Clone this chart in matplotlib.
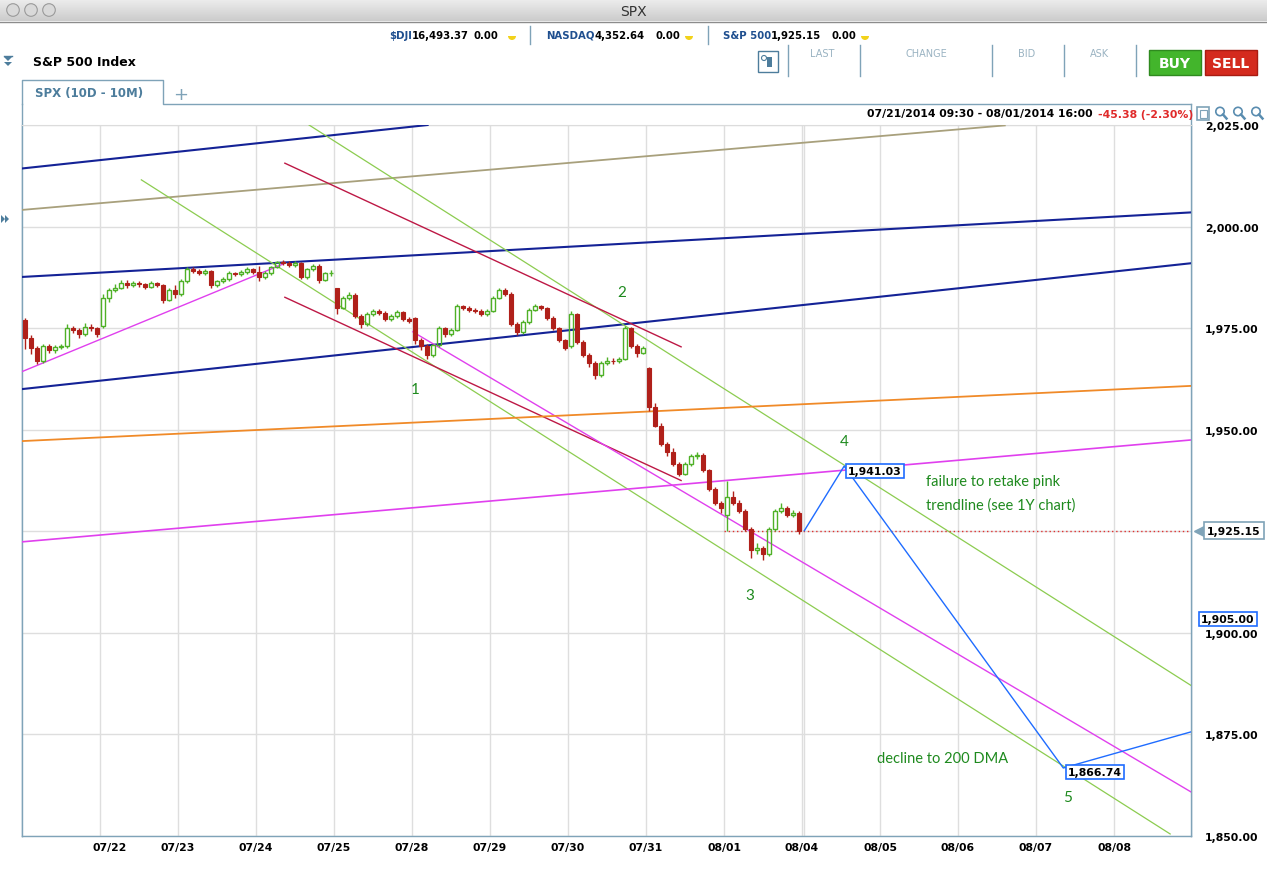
import matplotlib
matplotlib.use("Agg")
import matplotlib.pyplot as plt
import matplotlib.transforms as mtransforms
from matplotlib.patches import Rectangle, Circle, Polygon, Wedge
import numpy as np

# ---------------- data ----------------
trade_dates = ["07/21", "07/22", "07/23", "07/24", "07/25", "07/28", "07/29", "07/30", "07/31", "08/01"]
future_dates = ["08/04", "08/05", "08/06", "08/07", "08/08"]
bars_per_day = 13  # 30-minute candles

opens = [
    1977.0, 1972.5, 1970.0, 1967.0, 1970.5, 1969.5, 1970.3, 1970.5, 1975.0, 1974.5, 1973.5, 1975.3, 1975.0,
    1975.5, 1982.5, 1984.5, 1985.0, 1986.2, 1985.5, 1986.0, 1985.8, 1985.2, 1986.0, 1985.5, 1982.0, 1984.5,
    1983.5, 1986.5, 1989.5, 1989.0, 1988.5, 1989.0, 1985.5, 1986.5, 1987.0, 1988.5, 1988.3, 1988.8, 1989.5,
    1988.8, 1987.5, 1988.5, 1990.0, 1991.2, 1991.0, 1990.5, 1991.0, 1987.5, 1989.5, 1990.3, 1986.8, 1988.5,
    1984.8, 1980.0, 1982.5, 1983.2, 1978.0, 1976.0, 1978.5, 1979.2, 1978.7, 1977.2, 1978.0, 1979.0, 1977.2,
    1977.5, 1972.0, 1970.5, 1968.5, 1970.8, 1975.0, 1973.5, 1974.5, 1980.5, 1980.0, 1979.5, 1979.2, 1978.5,
    1979.3, 1982.5, 1984.5, 1983.5, 1976.0, 1974.0, 1976.5, 1979.5, 1980.5, 1980.0, 1977.5, 1975.0, 1972.0,
    1970.5, 1978.5, 1971.5, 1968.5, 1966.5, 1963.5, 1966.5, 1967.0, 1966.8, 1967.5, 1975.0, 1970.5, 1969.0,
    1965.2, 1955.5, 1951.0, 1946.5, 1944.5, 1941.5, 1939.2, 1941.5, 1943.5, 1943.8, 1940.0, 1935.5, 1932.0,
    1929.0, 1933.5, 1932.0, 1930.0, 1925.5, 1920.5, 1920.8, 1919.5, 1925.5, 1930.0, 1930.8, 1929.0, 1929.5,
]
closes = [
    1972.5, 1970.0, 1967.0, 1970.5, 1969.5, 1970.3, 1970.5, 1975.0, 1974.5, 1973.5, 1975.3, 1975.0, 1973.5,
    1982.5, 1984.5, 1985.0, 1986.2, 1985.5, 1986.0, 1985.8, 1985.2, 1986.0, 1985.5, 1982.0, 1984.5, 1983.5,
    1986.5, 1989.5, 1989.0, 1988.5, 1989.0, 1985.5, 1986.5, 1987.0, 1988.5, 1988.3, 1988.8, 1989.5, 1988.8,
    1987.5, 1988.5, 1990.0, 1991.2, 1991.0, 1990.5, 1991.0, 1987.5, 1989.5, 1990.3, 1986.8, 1988.5, 1988.6,
    1980.0, 1982.5, 1983.2, 1978.0, 1976.0, 1978.5, 1979.2, 1978.7, 1977.2, 1978.0, 1979.0, 1977.2, 1976.8,
    1972.0, 1970.5, 1968.5, 1970.8, 1975.0, 1973.5, 1974.5, 1980.5, 1980.0, 1979.5, 1979.2, 1978.5, 1979.3,
    1982.5, 1984.5, 1983.5, 1976.0, 1974.0, 1976.5, 1979.5, 1980.5, 1980.0, 1977.5, 1975.0, 1972.0, 1970.2,
    1978.5, 1971.5, 1968.5, 1966.5, 1963.5, 1966.5, 1967.0, 1966.8, 1967.5, 1975.0, 1970.5, 1969.0, 1970.0,
    1955.5, 1951.0, 1946.5, 1944.5, 1941.5, 1939.2, 1941.5, 1943.5, 1943.8, 1940.0, 1935.5, 1932.0, 1930.8,
    1933.5, 1932.0, 1930.0, 1925.5, 1920.5, 1920.8, 1919.5, 1925.5, 1930.0, 1930.8, 1929.0, 1929.5, 1925.15,
]
highs = [
    1977.5, 1973.2, 1970.5, 1971.0, 1971.0, 1970.8, 1971.2, 1976.0, 1975.6, 1975.0, 1976.2, 1976.0, 1975.4,
    1983.5, 1985.0, 1985.8, 1986.8, 1986.8, 1986.6, 1986.5, 1986.2, 1986.5, 1986.4, 1985.8, 1984.9, 1985.6,
    1987.0, 1990.0, 1990.0, 1989.6, 1989.5, 1989.4, 1986.9, 1987.5, 1989.0, 1988.9, 1989.2, 1990.0, 1989.8,
    1990.3, 1989.0, 1990.4, 1991.6, 1991.8, 1991.5, 1991.5, 1991.4, 1989.9, 1990.8, 1990.7, 1988.9, 1989.2,
    1985.0, 1983.0, 1984.0, 1983.6, 1978.5, 1978.9, 1979.7, 1979.6, 1979.1, 1978.4, 1979.5, 1979.3, 1977.8,
    1977.8, 1972.5, 1971.0, 1971.2, 1975.6, 1975.3, 1975.0, 1981.0, 1980.8, 1980.4, 1979.9, 1979.6, 1979.8,
    1982.9, 1985.0, 1984.9, 1983.8, 1976.5, 1976.9, 1979.9, 1981.0, 1980.8, 1980.3, 1977.9, 1975.4, 1972.4,
    1979.2, 1978.8, 1972.0, 1969.0, 1967.0, 1967.0, 1967.8, 1967.6, 1968.0, 1975.5, 1975.3, 1971.0, 1970.6,
    1965.4, 1956.5, 1951.6, 1947.0, 1945.5, 1942.0, 1942.0, 1944.0, 1944.6, 1944.2, 1940.4, 1936.0, 1932.5,
    1937.3, 1935.0, 1932.6, 1930.4, 1926.0, 1922.0, 1921.5, 1926.0, 1930.6, 1931.9, 1931.2, 1930.2, 1929.9,
]
lows = [
    1969.8, 1968.6, 1966.2, 1966.5, 1968.8, 1968.9, 1969.8, 1970.0, 1973.8, 1972.6, 1973.0, 1974.2, 1972.9,
    1975.0, 1981.5, 1983.9, 1984.6, 1985.0, 1985.1, 1985.2, 1984.6, 1984.9, 1985.1, 1981.3, 1981.6, 1982.3,
    1983.0, 1986.2, 1988.6, 1988.0, 1988.1, 1985.0, 1985.1, 1986.2, 1986.7, 1987.8, 1987.9, 1988.4, 1988.3,
    1986.5, 1987.0, 1988.2, 1989.7, 1990.6, 1990.1, 1990.1, 1987.1, 1987.2, 1989.1, 1986.2, 1986.5, 1987.9,
    1978.5, 1979.6, 1982.0, 1977.5, 1975.0, 1975.6, 1978.1, 1978.2, 1976.8, 1976.7, 1977.6, 1976.8, 1976.2,
    1971.0, 1969.6, 1967.5, 1968.0, 1970.3, 1972.8, 1973.0, 1974.2, 1979.4, 1979.0, 1978.8, 1978.0, 1978.1,
    1979.0, 1982.1, 1983.0, 1975.6, 1973.2, 1973.6, 1976.1, 1979.1, 1979.4, 1977.1, 1974.6, 1971.6, 1969.5,
    1970.0, 1971.0, 1968.0, 1965.5, 1962.5, 1963.0, 1965.9, 1966.2, 1966.3, 1967.1, 1970.0, 1967.8, 1968.6,
    1954.5, 1950.6, 1946.0, 1943.5, 1941.0, 1938.5, 1938.8, 1941.0, 1942.8, 1939.5, 1935.0, 1931.5, 1929.5,
    1925.1, 1931.4, 1929.5, 1925.0, 1918.5, 1919.4, 1918.0, 1919.0, 1925.0, 1929.4, 1928.5, 1928.4, 1924.3,
]

y_ticks = [1850, 1875, 1900, 1925, 1950, 1975, 2000, 2025]
y_tick_labels = ["1,850.00", "1,875.00", "1,900.00", "", "1,950.00", "1,975.00", "2,000.00", "2,025.00"]

# trendlines: x in trading days from 07/21 09:30, y = index level
navy_top_x, navy_top_y = [0.0, 5.2], [2014.3, 2025.0]
olive_x, olive_y = [0.0, 12.6], [2004.1, 2024.9]
navy_mid_x, navy_mid_y = [0.0, 15.0], [1987.6, 2003.5]
navy_low_x, navy_low_y = [0.0, 15.0], [1960.0, 1991.0]
green_up_x, green_up_y = [3.68, 15.0], [2025.0, 1886.9]
green_lo_x, green_lo_y = [1.53, 14.72], [2011.5, 1850.5]
crimson_up_x, crimson_up_y = [3.37, 8.45], [2015.6, 1970.4]
crimson_lo_x, crimson_lo_y = [3.37, 8.45], [1982.6, 1937.5]
pink_short_x, pink_short_y = [0.0, 3.35], [1964.3, 1990.8]
pink_down_x, pink_down_y = [5.01, 15.0], [1974.1, 1860.7]
pink_up_x, pink_up_y = [0.0, 15.0], [1922.4, 1947.5]
orange_x, orange_y = [0.0, 15.0], [1947.2, 1960.8]
proj_x = [10.03, 10.54, 13.35, 15.0]
proj_y = [1925.15, 1941.03, 1866.74, 1875.7]
last_price = 1925.15
cursor_price = 1905.00
cursor_y = 1903.4

wave_text = ["1", "2", "3", "4", "5"]
wave_x = [5.04, 7.69, 9.33, 10.54, 13.4]
wave_y = [1960.0, 1983.9, 1909.3, 1947.2, 1859.6]

# ---------------- figure ----------------
W, H = 1267, 870
fig = plt.figure(figsize=(W / 100, H / 100), dpi=100)
fig.patch.set_facecolor("white")

STEEL = "#7fa3b8"
TABBLUE = "#4d7d9c"
TICKBLUE = "#1f4f8f"
GREEN_ANN = "#1e8a1e"
BOLD = dict(family="DejaVu Sans", weight="bold")

# overlay in pixel coordinates for the window chrome
ov = fig.add_axes([0, 0, 1, 1], zorder=0)
ov.set_xlim(0, W)
ov.set_ylim(H, 0)
ov.axis("off")

grad = np.linspace(0.93, 0.80, 22)
img = np.dstack([grad, grad, grad]).reshape(22, 1, 3)
ov.imshow(img, extent=(0, W, 22, 0), aspect="auto", zorder=0)
ov.set_xlim(0, W)
ov.set_ylim(H, 0)
ov.plot([0, W], [22.5, 22.5], color="#8c8c8c", lw=1)
for cx in (13, 31, 49):
    ov.add_patch(Circle((cx, 11), 6.3, fc="#d9d9d9", ec="#9a9a9a", lw=0.8))
ov.text(633, 11.5, "SPX", ha="center", va="center", fontsize=10, color="#333333")


def chain(prev, s, color, gap=0):
    return ov.annotate(s, xy=(1, 0.5), xycoords=prev, xytext=(gap, 0), textcoords="offset pixels",
                       ha="left", va="center", fontsize=7.3, color=color, **BOLD)


# ticker row
ty = 36
t = ov.text(389, ty, "$DJI", ha="left", va="center", fontsize=7.3, color=TICKBLUE, **BOLD)
t = chain(t, "16,493.37", "black")
chain(t, "0.00", "black", gap=5)
t = ov.text(546, ty, "NASDAQ", ha="left", va="center", fontsize=7.3, color=TICKBLUE, **BOLD)
chain(t, "4,352.64", "black")
ov.text(655, ty, "0.00", ha="left", va="center", fontsize=7.3, color="black", **BOLD)
t = ov.text(723, ty, "S&P 500", ha="left", va="center", fontsize=7.3, color=TICKBLUE, **BOLD)
chain(t, "1,925.15", "black")
ov.text(831, ty, "0.00", ha="left", va="center", fontsize=7.3, color="black", **BOLD)
for ix in (512, 689, 865):
    ov.add_patch(Wedge((ix, ty + 1), 4, 0, 180, fc="#f2d21a", ec="none"))
for sx in (530, 708):
    ov.plot([sx, sx], [27, 45], color=STEEL, lw=1)

# title row
ov.add_patch(Polygon([[4, 58], [12, 58], [8, 62]], fc=TABBLUE, ec="none"))
ov.add_patch(Polygon([[4, 63], [12, 63], [8, 67]], fc=TABBLUE, ec="none"))
ov.plot([4, 12], [57, 57], color=TABBLUE, lw=1)
ov.text(33, 62, "S&P 500 Index", ha="left", va="center", fontsize=9, color="black", **BOLD)

ov.add_patch(Rectangle((758, 52), 20, 21, fc="white", ec=TABBLUE, lw=1))
ov.add_patch(Circle((764, 59), 2.5, fc="none", ec=TABBLUE, lw=0.8))
ov.add_patch(Rectangle((767, 58), 5, 10, fc=TABBLUE, ec="none"))
for sx in (788, 860, 992, 1064, 1136):
    ov.plot([sx, sx], [46, 77], color=STEEL, lw=1)
for lx, lab in ((822, "LAST"), (926, "CHANGE"), (1027, "BID"), (1099, "ASK")):
    ov.text(lx, 54, lab, ha="center", va="center", fontsize=7, color="#9ab3c2")
ov.add_patch(Rectangle((1149, 51), 52, 25, fc="#43b52c", ec="#2f8a1f", lw=1))
ov.text(1175, 63.5, "BUY", ha="center", va="center", fontsize=10, color="white", **BOLD)
ov.add_patch(Rectangle((1205, 51), 52, 25, fc="#d42a1e", ec="#a81b12", lw=1))
ov.text(1231, 63.5, "SELL", ha="center", va="center", fontsize=10, color="white", **BOLD)

# tab
ov.plot([22, 22, 163, 163, 1191], [105, 81, 81, 105, 105], color=STEEL, lw=1)
ov.text(35, 94, "SPX (10D - 10M)", ha="left", va="center", fontsize=8.5, color=TABBLUE, **BOLD)
ov.text(181, 95, "+", ha="center", va="center", fontsize=13, color="#7fa3b8")
ov.plot([22, 22], [105, 837], color=STEEL, lw=1)
ov.plot([1191, 1191], [105, 837], color=STEEL, lw=1)
ov.add_patch(Polygon([[1, 216], [5, 220], [1, 224]], fc=TABBLUE, ec="none"))
ov.add_patch(Polygon([[5, 216], [9, 220], [5, 224]], fc=TABBLUE, ec="none"))

# header strip
ov.text(1093, 114.5, "07/21/2014 09:30 - 08/01/2014 16:00", ha="right", va="center",
        fontsize=7.8, color="black", **BOLD)
ov.text(1098, 114.5, "-45.38 (-2.30%)", ha="left", va="center", fontsize=7.8, color="#e02a2a", **BOLD)
ov.add_patch(Rectangle((1197, 108), 12, 13, fc="white", ec=STEEL, lw=1.2))
ov.add_patch(Rectangle((1199.5, 110.5), 7, 8, fc="none", ec=STEEL, lw=0.8))
for mx in (1220, 1238, 1256):
    ov.add_patch(Circle((mx, 112.5), 4.2, fc="white", ec="#5a8db0", lw=1.2))
    ov.plot([mx + 3, mx + 6.5], [115.5, 119.5], color="#5a8db0", lw=1.8)

# ---------------- main chart ----------------
x0, x1, y0, y1 = 22, 1191, 126, 837
ax = fig.add_axes([x0 / W, 1 - y1 / H, (x1 - x0) / W, (y1 - y0) / H], zorder=2)
ax.set_facecolor("white")
n_days = len(trade_dates) + len(future_dates)
ax.set_xlim(0, (x1 - x0) / 78.0)
ax.set_ylim(1850, 2025)

for s in ("left", "right", "bottom"):
    ax.spines[s].set_color(STEEL)
    ax.spines[s].set_linewidth(1)
ax.spines["top"].set_color("#dcdcdc")

# grid
grid_days = list(range(1, n_days)) + [len(trade_dates) + 0.025]
for gx in grid_days:
    ax.axvline(gx, color="#dedede", lw=1, zorder=0)
for gy in y_ticks:
    ax.axhline(gy, color="#dedede", lw=1, zorder=0)

# y axis labels
ax.yaxis.tick_right()
ax.set_yticks(y_ticks)
ax.set_yticklabels(y_tick_labels)
ax.tick_params(axis="y", length=0, pad=10)
for lab in ax.get_yticklabels():
    lab.set_fontfamily("DejaVu Sans")
    lab.set_fontweight("bold")
    lab.set_fontsize(7.8)
    lab.set_horizontalalignment("left")

# x axis labels
all_dates = trade_dates + future_dates
ax.set_xticks([])
xt = mtransforms.blended_transform_factory(ax.transData, ax.transAxes)
for i, d in enumerate(all_dates[1:], start=1):
    off = 0.12 if i == 1 else 0.0
    ax.text(i + off, -0.016, d, transform=xt, ha="center", va="center",
            fontsize=7.8, color="black", clip_on=False, **BOLD)

# candles
n = len(closes)
w = 0.8 / bars_per_day
UP = "#4fb127"
DOWN = "#b0201a"
for i in range(n):
    cx = i // bars_per_day + (i % bars_per_day + 0.5) / bars_per_day
    o, h, l, c = opens[i], highs[i], lows[i], closes[i]
    top, bot = max(o, c), min(o, c)
    col = UP if c >= o else DOWN
    ax.plot([cx, cx], [top, h], color=col, lw=1, zorder=4, solid_capstyle="butt")
    ax.plot([cx, cx], [l, bot], color=col, lw=1, zorder=4, solid_capstyle="butt")
    if c >= o:
        ax.add_patch(Rectangle((cx - w / 2, bot), w, max(top - bot, 0.15), fc="none", ec=UP, lw=1, zorder=4))
    else:
        ax.add_patch(Rectangle((cx - w / 2, bot), w, max(top - bot, 0.15), fc=DOWN, ec=DOWN, lw=0.8, zorder=4))

# trendlines
ax.plot(navy_top_x, navy_top_y, color="#142296", lw=1.5, zorder=3)
ax.plot(olive_x, olive_y, color="#a8a07c", lw=1.3, zorder=3)
ax.plot(navy_mid_x, navy_mid_y, color="#142296", lw=1.5, zorder=3)
ax.plot(navy_low_x, navy_low_y, color="#142296", lw=1.5, zorder=3)
ax.plot(green_up_x, green_up_y, color="#8ccc50", lw=0.9, zorder=3)
ax.plot(green_lo_x, green_lo_y, color="#8ccc50", lw=0.9, zorder=3)
ax.plot(crimson_up_x, crimson_up_y, color="#bd1845", lw=1.0, zorder=3)
ax.plot(crimson_lo_x, crimson_lo_y, color="#bd1845", lw=1.0, zorder=3)
ax.plot(pink_short_x, pink_short_y, color="#e040ee", lw=1.0, zorder=3)
ax.plot(pink_down_x, pink_down_y, color="#e040ee", lw=1.0, zorder=3)
ax.plot(pink_up_x, pink_up_y, color="#e040ee", lw=1.2, zorder=3)
ax.plot(orange_x, orange_y, color="#f08a28", lw=1.3, zorder=3)

# last price dotted line and projection
ax.plot([len(trade_dates) - 1, ax.get_xlim()[1]], [last_price, last_price],
        color="#e03030", lw=1, ls=(0, (1, 2)), zorder=3)
ax.plot(proj_x, proj_y, color="#1f6cff", lw=1.0, zorder=5)

box_blue = dict(boxstyle="square,pad=0.2", fc="white", ec="#1f6cff", lw=1.2)
ax.annotate(f"{proj_y[1]:,.2f}", xy=(proj_x[1], proj_y[1]), xytext=(4, -5),
            textcoords="offset pixels", ha="left", va="center", fontsize=7.8, zorder=6,
            bbox=box_blue, **BOLD)
ax.annotate(f"{proj_y[2]:,.2f}", xy=(proj_x[2], proj_y[2]), xytext=(5, -4),
            textcoords="offset pixels", ha="left", va="center", fontsize=7.8, zorder=6,
            bbox=box_blue, **BOLD)

# right-side price boxes
yt = mtransforms.blended_transform_factory(ax.transAxes, ax.transData)
ax.plot([1.0075], [last_price], marker="<", ms=8, color=STEEL, transform=yt, clip_on=False, zorder=6)
ax.text(1.0135, last_price, f"{last_price:,.2f}", transform=yt, ha="left", va="center",
        fontsize=7.8, clip_on=False, zorder=7,
        bbox=dict(boxstyle="square,pad=0.3", fc="white", ec=STEEL, lw=1.2), **BOLD)
ax.text(1.0085, cursor_y, f"{cursor_price:,.2f}", transform=yt, ha="left", va="center",
        fontsize=7.8, clip_on=False, zorder=7,
        bbox=dict(boxstyle="square,pad=0.2", fc="white", ec="#1f6cff", lw=1.2), **BOLD)

# wave annotations
for t_, wx, wy in zip(wave_text, wave_x, wave_y):
    ax.text(wx, wy, t_, ha="center", va="center", fontsize=11, color=GREEN_ANN,
            family="Lato", zorder=6)
ax.text(11.59, 1937.4, "failure to retake pink", ha="left", va="center", fontsize=10.5,
        color=GREEN_ANN, family="Lato", zorder=6)
ax.text(11.59, 1931.7, "trendline (see 1Y chart)", ha="left", va="center", fontsize=10.5,
        color=GREEN_ANN, family="Lato", zorder=6)
ax.text(10.96, 1869.2, "decline to 200 DMA", ha="left", va="center", fontsize=10.5,
        color=GREEN_ANN, family="Lato", zorder=6)

fig.savefig("out.png", dpi=100)
